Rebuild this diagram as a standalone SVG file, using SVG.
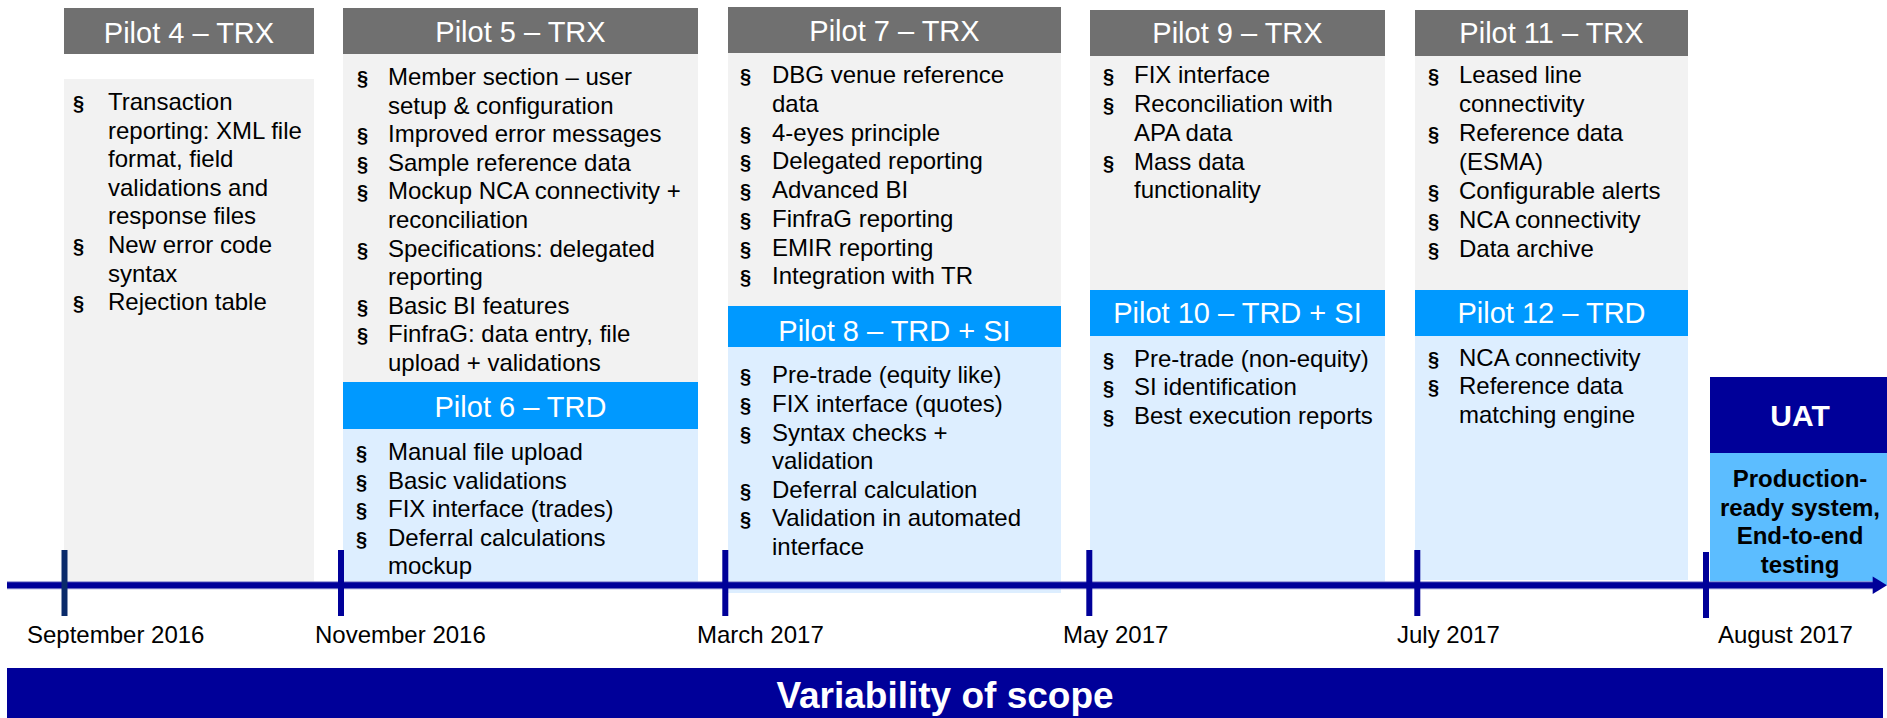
<svg xmlns="http://www.w3.org/2000/svg" width="1887" height="718" viewBox="0 0 1887 718">
  <style>
    text { font-family: "Liberation Sans", Arial, sans-serif; }
    .hd-gray { fill: #707070; }
    .hd-blue { fill: #0099FF; }
    .bd-gray { fill: #F2F2F2; }
    .bd-blue { fill: #DDEEFF; }
    .hd-txt { font-size: 29px; fill: #FFFFFF; text-anchor: middle; }
    .item { font-size: 24px; fill: #000000; }
    .bul { font-size: 20px; font-weight: bold; fill: #000000; }
    .date { font-size: 24px; fill: #000000; }
    .tick { stroke: #000099; stroke-width: 6; }
  </style>

  <!-- Pilot 4 -->
  <g id="pilot4">
    <rect class="hd-gray" x="64" y="8" width="250" height="46"/>
    <text class="hd-txt" x="189" y="43">Pilot 4 – TRX</text>
    <rect class="bd-gray" x="64" y="79" width="250" height="503"/>
    <text class="bul" x="73" y="110">§</text>
    <text class="item" x="108" y="110">Transaction</text>
    <text class="item" x="108" y="138.6">reporting: XML file</text>
    <text class="item" x="108" y="167.2">format, field</text>
    <text class="item" x="108" y="195.8">validations and</text>
    <text class="item" x="108" y="224.4">response files</text>
    <text class="bul" x="73" y="253">§</text>
    <text class="item" x="108" y="253">New error code</text>
    <text class="item" x="108" y="281.6">syntax</text>
    <text class="bul" x="73" y="310.2">§</text>
    <text class="item" x="108" y="310.2">Rejection table</text>
  </g>

  <!-- Pilot 5 -->
  <g id="pilot5">
    <rect class="hd-gray" x="343" y="8" width="355" height="46"/>
    <text class="hd-txt" x="520.5" y="42">Pilot 5 – TRX</text>
    <rect class="bd-gray" x="343" y="54" width="355" height="328"/>
    <text class="bul" x="357" y="85">§</text>
    <text class="item" x="388" y="85">Member section – user</text>
    <text class="item" x="388" y="113.6">setup &amp; configuration</text>
    <text class="bul" x="357" y="142.2">§</text>
    <text class="item" x="388" y="142.2">Improved error messages</text>
    <text class="bul" x="357" y="170.8">§</text>
    <text class="item" x="388" y="170.8">Sample reference data</text>
    <text class="bul" x="357" y="199.4">§</text>
    <text class="item" x="388" y="199.4">Mockup NCA connectivity +</text>
    <text class="item" x="388" y="228">reconciliation</text>
    <text class="bul" x="357" y="256.6">§</text>
    <text class="item" x="388" y="256.6">Specifications: delegated</text>
    <text class="item" x="388" y="285.2">reporting</text>
    <text class="bul" x="357" y="313.8">§</text>
    <text class="item" x="388" y="313.8">Basic BI features</text>
    <text class="bul" x="357" y="342.4">§</text>
    <text class="item" x="388" y="342.4">FinfraG: data entry, file</text>
    <text class="item" x="388" y="371">upload + validations</text>
  </g>

  <!-- Pilot 6 -->
  <g id="pilot6">
    <rect class="hd-blue" x="343" y="382" width="355" height="47"/>
    <text class="hd-txt" x="520.5" y="417">Pilot 6 – TRD</text>
    <rect class="bd-blue" x="343" y="429" width="355" height="154"/>
    <text class="bul" x="356" y="460">§</text>
    <text class="item" x="388" y="460">Manual file upload</text>
    <text class="bul" x="356" y="488.5">§</text>
    <text class="item" x="388" y="488.5">Basic validations</text>
    <text class="bul" x="356" y="517">§</text>
    <text class="item" x="388" y="517">FIX interface (trades)</text>
    <text class="bul" x="356" y="545.5">§</text>
    <text class="item" x="388" y="545.5">Deferral calculations</text>
    <text class="item" x="388" y="574">mockup</text>
  </g>

  <!-- Pilot 7 -->
  <g id="pilot7">
    <rect class="hd-gray" x="728" y="7" width="333" height="46"/>
    <text class="hd-txt" x="894.5" y="41">Pilot 7 – TRX</text>
    <rect class="bd-gray" x="728" y="53" width="333" height="253"/>
    <text class="bul" x="740" y="83.3">§</text>
    <text class="item" x="772" y="83.3">DBG venue reference</text>
    <text class="item" x="772" y="112">data</text>
    <text class="bul" x="740" y="140.7">§</text>
    <text class="item" x="772" y="140.7">4-eyes principle</text>
    <text class="bul" x="740" y="169.4">§</text>
    <text class="item" x="772" y="169.4">Delegated reporting</text>
    <text class="bul" x="740" y="198.1">§</text>
    <text class="item" x="772" y="198.1">Advanced BI</text>
    <text class="bul" x="740" y="226.8">§</text>
    <text class="item" x="772" y="226.8">FinfraG reporting</text>
    <text class="bul" x="740" y="255.5">§</text>
    <text class="item" x="772" y="255.5">EMIR reporting</text>
    <text class="bul" x="740" y="284.2">§</text>
    <text class="item" x="772" y="284.2">Integration with TR</text>
  </g>

  <!-- Pilot 8 -->
  <g id="pilot8">
    <rect class="hd-blue" x="728" y="306" width="333" height="41"/>
    <text class="hd-txt" x="894.5" y="341">Pilot 8 – TRD + SI</text>
    <rect class="bd-blue" x="728" y="347" width="333" height="246"/>
    <text class="bul" x="740" y="383.3">§</text>
    <text class="item" x="772" y="383.3">Pre-trade (equity like)</text>
    <text class="bul" x="740" y="412">§</text>
    <text class="item" x="772" y="412">FIX interface (quotes)</text>
    <text class="bul" x="740" y="440.6">§</text>
    <text class="item" x="772" y="440.6">Syntax checks +</text>
    <text class="item" x="772" y="469.2">validation</text>
    <text class="bul" x="740" y="497.8">§</text>
    <text class="item" x="772" y="497.8">Deferral calculation</text>
    <text class="bul" x="740" y="526.4">§</text>
    <text class="item" x="772" y="526.4">Validation in automated</text>
    <text class="item" x="772" y="555">interface</text>
  </g>

  <!-- Pilot 9 -->
  <g id="pilot9">
    <rect class="hd-gray" x="1090" y="10" width="295" height="46"/>
    <text class="hd-txt" x="1237.5" y="43.3">Pilot 9 – TRX</text>
    <rect class="bd-gray" x="1090" y="56" width="295" height="234"/>
    <text class="bul" x="1103" y="83.3">§</text>
    <text class="item" x="1134" y="83.3">FIX interface</text>
    <text class="bul" x="1103" y="112">§</text>
    <text class="item" x="1134" y="112">Reconciliation with</text>
    <text class="item" x="1134" y="140.8">APA data</text>
    <text class="bul" x="1103" y="169.5">§</text>
    <text class="item" x="1134" y="169.5">Mass data</text>
    <text class="item" x="1134" y="198.3">functionality</text>
  </g>

  <!-- Pilot 10 -->
  <g id="pilot10">
    <rect class="hd-blue" x="1090" y="290" width="295" height="46"/>
    <text class="hd-txt" x="1237.5" y="323.3">Pilot 10 – TRD + SI</text>
    <rect class="bd-blue" x="1090" y="336" width="295" height="247"/>
    <text class="bul" x="1103" y="366.7">§</text>
    <text class="item" x="1134" y="366.7">Pre-trade (non-equity)</text>
    <text class="bul" x="1103" y="395.2">§</text>
    <text class="item" x="1134" y="395.2">SI identification</text>
    <text class="bul" x="1103" y="423.8">§</text>
    <text class="item" x="1134" y="423.8">Best execution reports</text>
  </g>

  <!-- Pilot 11 -->
  <g id="pilot11">
    <rect class="hd-gray" x="1415" y="10" width="273" height="46"/>
    <text class="hd-txt" x="1551.5" y="43.3">Pilot 11 – TRX</text>
    <rect class="bd-gray" x="1415" y="56" width="273" height="234"/>
    <text class="bul" x="1428" y="83.3">§</text>
    <text class="item" x="1459" y="83.3">Leased line</text>
    <text class="item" x="1459" y="112.2">connectivity</text>
    <text class="bul" x="1428" y="141.1">§</text>
    <text class="item" x="1459" y="141.1">Reference data</text>
    <text class="item" x="1459" y="170">(ESMA)</text>
    <text class="bul" x="1428" y="198.9">§</text>
    <text class="item" x="1459" y="198.9">Configurable alerts</text>
    <text class="bul" x="1428" y="227.8">§</text>
    <text class="item" x="1459" y="227.8">NCA connectivity</text>
    <text class="bul" x="1428" y="256.7">§</text>
    <text class="item" x="1459" y="256.7">Data archive</text>
  </g>

  <!-- Pilot 12 -->
  <g id="pilot12">
    <rect class="hd-blue" x="1415" y="290" width="273" height="46"/>
    <text class="hd-txt" x="1551.5" y="323.3">Pilot 12 – TRD</text>
    <rect class="bd-blue" x="1415" y="336" width="273" height="244"/>
    <text class="bul" x="1428" y="365.5">§</text>
    <text class="item" x="1459" y="365.5">NCA connectivity</text>
    <text class="bul" x="1428" y="394.2">§</text>
    <text class="item" x="1459" y="394.2">Reference data</text>
    <text class="item" x="1459" y="422.8">matching engine</text>
  </g>

  <!-- UAT -->
  <g id="uat">
    <rect x="1710" y="377" width="177" height="76" fill="#000099"/>
    <text x="1800" y="426" font-size="30" font-weight="bold" fill="#FFFFFF" text-anchor="middle">UAT</text>
    <rect x="1710" y="453" width="177" height="132" fill="#5CBDFF"/>
    <g font-size="24" font-weight="bold" fill="#000000" text-anchor="middle">
      <text x="1800" y="486.7">Production-</text>
      <text x="1800" y="515.5">ready system,</text>
      <text x="1800" y="544.2">End-to-end</text>
      <text x="1800" y="572.9">testing</text>
    </g>
  </g>

  <!-- Timeline axis, ticks and arrow -->
  <g id="connectors">
    <line x1="7" y1="585.3" x2="1873" y2="585.3" stroke="#8C8CD0" stroke-width="8"/>
    <line x1="7" y1="585.3" x2="1873" y2="585.3" stroke="#000099" stroke-width="6"/>
    <path d="M1872.7,576.6 L1887,585.3 L1872.7,594 Z" fill="#000099"/>
    <line class="tick" x1="64.5" y1="550" x2="64.5" y2="616" style="stroke:#0A2A6A"/>
    <line class="tick" x1="341" y1="550" x2="341" y2="616"/>
    <line class="tick" x1="725.3" y1="550" x2="725.3" y2="616"/>
    <line class="tick" x1="1089.3" y1="550" x2="1089.3" y2="616"/>
    <line class="tick" x1="1417.3" y1="550" x2="1417.3" y2="616"/>
    <line class="tick" x1="1706" y1="552" x2="1706" y2="618"/>
  </g>

  <!-- Date labels -->
  <g id="dates">
    <text class="date" x="27" y="643">September 2016</text>
    <text class="date" x="315" y="643">November 2016</text>
    <text class="date" x="697" y="643">March 2017</text>
    <text class="date" x="1063" y="643">May 2017</text>
    <text class="date" x="1397" y="643">July 2017</text>
    <text class="date" x="1718" y="643">August 2017</text>
  </g>

  <!-- Scope band -->
  <g id="scope">
    <rect x="7" y="668" width="1876" height="50" fill="#000099"/>
    <text x="945" y="708" font-size="37" font-weight="bold" fill="#FFFFFF" text-anchor="middle">Variability of scope</text>
  </g>
</svg>
